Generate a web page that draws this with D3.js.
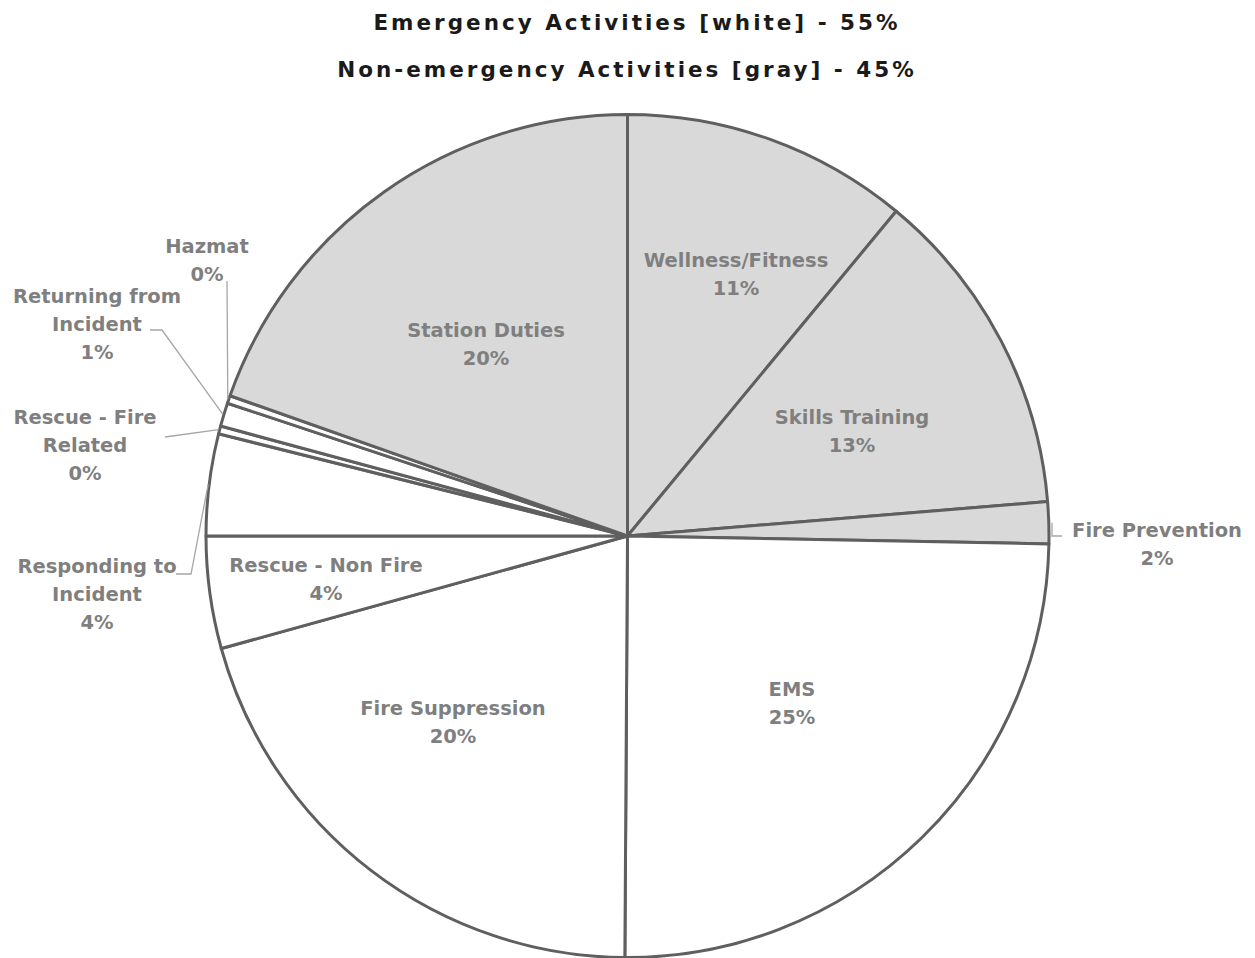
<!DOCTYPE html>
<meta charset="utf-8">
<style>
body { margin: 0; background: #fff; }
.title { font-family: "DejaVu Sans", sans-serif; font-weight: bold; fill: #1a1a1a; letter-spacing: 3px; }
.lbl { font-family: "DejaVu Sans", sans-serif; font-weight: bold; fill: #7f7f7f; }
.leader { fill: none; stroke: #a6a6a6; stroke-width: 1.3px; }
</style>
<body>
<svg id="chart"></svg>
<script src="https://d3js.org/d3.v7.min.js"></script>
<script>

// slices clockwise from 12 o'clock
var names = ["Wellness/Fitness", "Skills Training", "Fire Prevention", "EMS", "Fire Suppression",
             "Rescue - Non Fire", "Responding to Incident", "Rescue - Fire Related",
             "Returning from Incident", "Hazmat", "Station Duties"];
var values = [11.0, 12.7, 1.6, 24.8, 20.6, 4.3, 3.9, 0.3, 0.9, 0.3, 19.6];
var pctLabels = ["11%", "13%", "2%", "25%", "20%", "4%", "4%", "0%", "1%", "0%", "20%"];
var emergency = [false, false, false, true, true, true, true, true, true, true, false];
var titleLines = ["Emergency Activities [white] - 55%", "Non-emergency Activities [gray] - 45%"];

var width = 1255, height = 958;
var cx = 627.5, cy = 536, radius = 421.5;

// label layout: text lines and the centre of the first line
var labelLines = {
  "Wellness/Fitness": ["Wellness/Fitness"],
  "Skills Training": ["Skills Training"],
  "Fire Prevention": ["Fire Prevention"],
  "EMS": ["EMS"],
  "Fire Suppression": ["Fire Suppression"],
  "Rescue - Non Fire": ["Rescue - Non Fire"],
  "Responding to Incident": ["Responding to", "Incident"],
  "Rescue - Fire Related": ["Rescue - Fire", "Related"],
  "Returning from Incident": ["Returning from", "Incident"],
  "Hazmat": ["Hazmat"],
  "Station Duties": ["Station Duties"]
};
var labelPos = {
  "Wellness/Fitness": { x: 736, y: 260 },
  "Skills Training": { x: 852, y: 417 },
  "EMS": { x: 792, y: 689 },
  "Fire Suppression": { x: 453, y: 708 },
  "Rescue - Non Fire": { x: 326, y: 565 },
  "Station Duties": { x: 486, y: 330 },
  "Fire Prevention": { x: 1157, y: 530, leader: [[1062, 536], [1052, 536]] },
  "Responding to Incident": { x: 97, y: 566, leader: [[176, 574], [191, 574]] },
  "Rescue - Fire Related": { x: 85, y: 417, leader: [[165, 437]] },
  "Returning from Incident": { x: 97, y: 296, leader: [[150, 330], [162, 330]] },
  "Hazmat": { x: 207, y: 246, leader: [[227, 281]] }
};
var titleX = [637, 627];

var svg = d3.select("#chart").attr("width", width).attr("height", height);

svg.selectAll(".title").data(titleLines).enter().append("text")
    .attr("class", "title")
    .attr("x", function(d, i) { return titleX[i]; })
    .attr("y", function(d, i) { return 22 + i * 47; })
    .attr("text-anchor", "middle")
    .attr("dominant-baseline", "central")
    .style("font-size", "21.5px")
    .text(function(d) { return d; });

var data = names.map(function(n, i) {
  return { name: n, value: values[i], pct: pctLabels[i], emergency: emergency[i] };
});

var pie = d3.pie().sort(null).value(function(d) { return d.value; });
var arcs = pie(data);
var arc = d3.arc().innerRadius(0).outerRadius(radius);

var g = svg.append("g").attr("transform", "translate(" + cx + "," + cy + ")");

g.selectAll("path.slice").data(arcs).enter().append("path")
    .attr("class", "slice")
    .attr("d", arc)
    .attr("fill", function(d) { return d.data.emergency ? "#ffffff" : "#d9d9d9"; })
    .attr("stroke", "#5f5f5f")
    .attr("stroke-width", 3)
    .attr("stroke-linejoin", "round");

function midAngle(d) { return (d.startAngle + d.endAngle) / 2; }

// leader lines for the labels placed outside
arcs.forEach(function(d) {
  var o = labelPos[d.data.name];
  if (!o.leader) return;
  var a = midAngle(d);
  var edge = [Math.sin(a) * (radius + 1), -Math.cos(a) * (radius + 1)];
  var pts = o.leader.map(function(p) { return [p[0] - cx, p[1] - cy]; });
  if (d.data.name == "Fire Prevention") {
    pts.push([pts[pts.length - 1][0], edge[1]]);
  } else {
    pts.push(edge);
  }
  g.append("path").attr("class", "leader").attr("d", d3.line()(pts));
});

// labels
arcs.forEach(function(d) {
  var lines = labelLines[d.data.name].concat([d.data.pct]);
  var x = labelPos[d.data.name].x - cx;
  var y = labelPos[d.data.name].y - cy;
  var t = g.append("text").attr("class", "lbl")
      .attr("text-anchor", "middle")
      .style("font-size", "19.5px");
  lines.forEach(function(s, i) {
    t.append("tspan").attr("x", x).attr("y", y + i * 28.3)
        .attr("dominant-baseline", "central").text(s);
  });
});

</script>
</body>
